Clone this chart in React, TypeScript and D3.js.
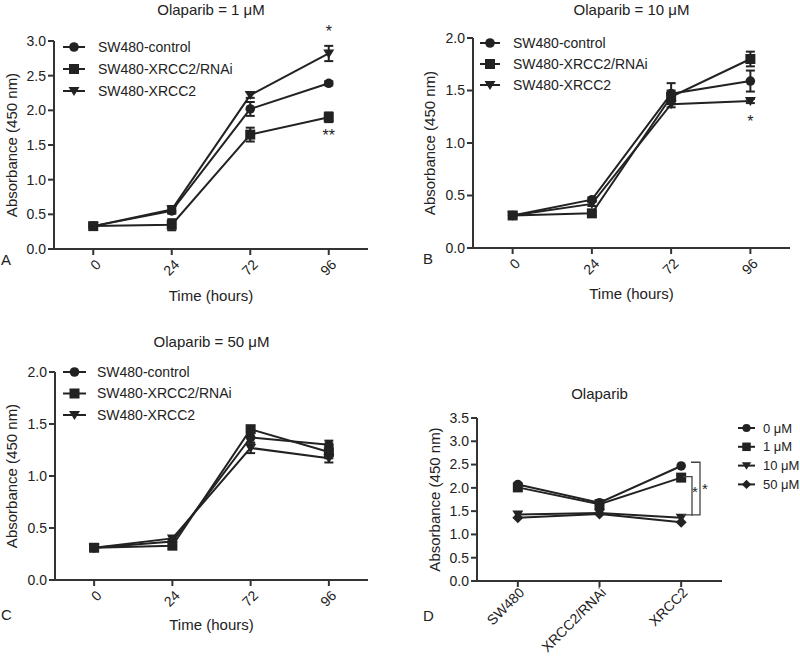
import React from "react";
import * as d3 from "d3";

const times = ["0", "24", "72", "96"];
const seriesNames = ["SW480-control", "SW480-XRCC2/RNAi", "SW480-XRCC2"];

// Panel A: Olaparib = 1 µM
const aControl = [0.33, 0.55, 2.02, 2.39];
const aRNAi = [0.33, 0.35, 1.65, 1.9];
const aXRCC2 = [0.33, 0.57, 2.22, 2.82];
const aControlErr = [0.02, 0.04, 0.1, 0.03];
const aRNAiErr = [0.03, 0.08, 0.1, 0.07];
const aXRCC2Err = [0.02, 0.05, 0.04, 0.11];

// Panel B: Olaparib = 10 µM
const bControl = [0.31, 0.46, 1.47, 1.59];
const bRNAi = [0.31, 0.33, 1.44, 1.8];
const bXRCC2 = [0.31, 0.42, 1.37, 1.4];
const bControlErr = [0.02, 0.02, 0.1, 0.1];
const bRNAiErr = [0.02, 0.02, 0.06, 0.07];
const bXRCC2Err = [0.02, 0.02, 0.03, 0.02];

// Panel C: Olaparib = 50 µM
const cControl = [0.31, 0.37, 1.37, 1.3];
const cRNAi = [0.31, 0.33, 1.45, 1.23];
const cXRCC2 = [0.31, 0.4, 1.27, 1.17];
const cControlErr = [0.02, 0.02, 0.05, 0.04];
const cRNAiErr = [0.02, 0.03, 0.03, 0.06];
const cXRCC2Err = [0.02, 0.02, 0.05, 0.04];

// Panel D: Olaparib dose comparison
const cellLines = ["SW480", "XRCC2/RNAi", "XRCC2"];
const doseNames = ["0 \u03bcM", "1 \u03bcM", "10 \u03bcM", "50 \u03bcM"];
const d0 = [2.07, 1.68, 2.47];
const d1 = [2.01, 1.65, 2.22];
const d10 = [1.43, 1.46, 1.36];
const d50 = [1.36, 1.44, 1.26];

const yTicksA = [0, 0.5, 1.0, 1.5, 2.0, 2.5, 3.0];
const yTicksBC = [0, 0.5, 1.0, 1.5, 2.0];
const yTicksD = [0, 0.5, 1.0, 1.5, 2.0, 2.5, 3.0, 3.5];

const FONT = "'Liberation Sans', Arial, Helvetica, sans-serif";
const INK = "#222";

type Shape = "circle" | "square" | "triDown" | "diamond";

function Marker({ shape, x, y, s = 1 }: { shape: Shape; x: number; y: number; s?: number }) {
  if (shape === "circle") return <circle cx={x} cy={y} r={4.8 * s} fill={INK} />;
  if (shape === "square") {
    const h = 5 * s;
    return <rect x={x - h} y={y - h} width={2 * h} height={2 * h} fill={INK} />;
  }
  if (shape === "triDown") {
    const w = 5.5 * s;
    return <path d={`M${x - w},${y - 4 * s}L${x + w},${y - 4 * s}L${x},${y + 5 * s}Z`} fill={INK} />;
  }
  const r = 5.5 * s;
  return <path d={`M${x},${y - r}L${x + r},${y}L${x},${y + r}L${x - r},${y}Z`} fill={INK} />;
}

type Series = { name: string; shape: Shape; values: number[]; err?: number[] };

type PanelProps = {
  left: number;
  right: number;
  top: number;
  bottom: number;
  yMax: number;
  yTicks: number[];
  cats: string[];
  series: Series[];
  title: string;
  titleY: number;
  xLabel?: string;
  xLabelY?: number;
  yLabelX: number;
  letter: string;
  letterX: number;
  letterY: number;
  legendX: number;
  legendY: number;
  legendDy: number;
  legendLine: number;
  legendTextDx: number;
  legendFont: number;
  tickFont?: number;
  tickDx?: number;
  tickDy?: number;
  children?: React.ReactNode;
};

function Panel(p: PanelProps) {
  const x = d3.scalePoint<string>().domain(p.cats).range([p.left, p.right]).padding(0.5);
  const y = d3.scaleLinear().domain([0, p.yMax]).range([p.bottom, p.top]);
  const line = d3
    .line<number>()
    .x((_, i) => x(p.cats[i]) as number)
    .y((v) => y(v));
  const fmt = d3.format(".1f");
  const tdx = p.tickDx ?? 5;
  const tdy = p.tickDy ?? 13;
  return (
    <g fontFamily={FONT} fill={INK}>
      <text x={(p.left + p.right) / 2} y={p.titleY} textAnchor="middle" fontSize={15}>
        {p.title}
      </text>
      {/* axes */}
      <line x1={p.left} x2={p.left} y1={p.top} y2={p.bottom + 1} stroke="#333" strokeWidth={2} />
      <line x1={p.left - 1} x2={p.right} y1={p.bottom} y2={p.bottom} stroke="#333" strokeWidth={2} />
      {p.yTicks.map((t) => (
        <g key={t}>
          <line x1={p.left - 6} x2={p.left} y1={y(t)} y2={y(t)} stroke="#333" strokeWidth={2} />
          <text x={p.left - 8} y={y(t)} dy="0.35em" textAnchor="end" fontSize={14}>
            {fmt(t)}
          </text>
        </g>
      ))}
      {p.cats.map((c) => {
        const cx = x(c) as number;
        return (
          <g key={c}>
            <line x1={cx} x2={cx} y1={p.bottom} y2={p.bottom + 6} stroke="#333" strokeWidth={2} />
            <text
              transform={`translate(${cx + tdx},${p.bottom + tdy}) rotate(-45)`}
              textAnchor="end"
              dy="0.35em"
              fontSize={p.tickFont ?? 14}
            >
              {c}
            </text>
          </g>
        );
      })}
      <text
        transform={`translate(${p.yLabelX},${(p.top + p.bottom) / 2}) rotate(-90)`}
        textAnchor="middle"
        fontSize={15}
      >
        Absorbance (450 nm)
      </text>
      {p.xLabel && (
        <text x={(p.left + p.right) / 2} y={p.xLabelY} textAnchor="middle" fontSize={15}>
          {p.xLabel}
        </text>
      )}
      <text x={p.letterX} y={p.letterY} fontSize={15}>
        {p.letter}
      </text>
      {/* series */}
      {p.series.map((s) => (
        <g key={s.name}>
          <path d={line(s.values) || ""} fill="none" stroke={INK} strokeWidth={2} />
          {s.err &&
            s.values.map((v, i) => {
              const e = s.err![i];
              const cx = x(p.cats[i]) as number;
              return (
                <g key={i} stroke={INK} strokeWidth={2}>
                  <line x1={cx} x2={cx} y1={y(v - e)} y2={y(v + e)} />
                  <line x1={cx - 4.5} x2={cx + 4.5} y1={y(v - e)} y2={y(v - e)} />
                  <line x1={cx - 4.5} x2={cx + 4.5} y1={y(v + e)} y2={y(v + e)} />
                </g>
              );
            })}
          {s.values.map((v, i) => (
            <Marker key={i} shape={s.shape} x={x(p.cats[i]) as number} y={y(v)} />
          ))}
        </g>
      ))}
      {/* legend */}
      {p.series.map((s, i) => {
        const ly = p.legendY + i * p.legendDy;
        return (
          <g key={s.name}>
            <line x1={p.legendX} x2={p.legendX + p.legendLine} y1={ly} y2={ly} stroke={INK} strokeWidth={2} />
            <Marker shape={s.shape} x={p.legendX + p.legendLine / 2} y={ly} s={p.legendFont < 14 ? 0.85 : 1} />
            <text x={p.legendX + p.legendTextDx} y={ly} dy="0.35em" fontSize={p.legendFont}>
              {s.name}
            </text>
          </g>
        );
      })}
      {p.children}
    </g>
  );
}

const shapes: Shape[] = ["circle", "square", "triDown"];

function mk(vals: number[][], errs: number[][]): Series[] {
  return seriesNames.map((n, i) => ({ name: n, shape: shapes[i], values: vals[i], err: errs[i] }));
}

export default function App() {
  const A = mk([aControl, aRNAi, aXRCC2], [aControlErr, aRNAiErr, aXRCC2Err]);
  const B = mk([bControl, bRNAi, bXRCC2], [bControlErr, bRNAiErr, bXRCC2Err]);
  const C = mk([cControl, cRNAi, cXRCC2], [cControlErr, cRNAiErr, cXRCC2Err]);
  const dShapes: Shape[] = ["circle", "square", "triDown", "diamond"];
  const D: Series[] = [d0, d1, d10, d50].map((v, i) => ({ name: doseNames[i], shape: dShapes[i], values: v }));

  const yA = d3.scaleLinear().domain([0, 3]).range([249, 41]);
  const yB = d3.scaleLinear().domain([0, 2]).range([248, 38]);
  const yD = d3.scaleLinear().domain([0, 3.5]).range([581, 418]);
  const xA = d3.scalePoint<string>().domain(times).range([54, 368]).padding(0.5);
  const xB = d3.scalePoint<string>().domain(times).range([473, 790]).padding(0.5);

  const bracket = (xv: number, y1: number, y2: number) =>
    `M${xv - 9},${y1}L${xv},${y1}L${xv},${y2}L${xv - 9},${y2}`;

  return (
    <svg width={800} height={656} style={{ position: "absolute", left: 0, top: 0, background: "#fff" }}>
      <rect width={800} height={656} fill="#fff" />
      <Panel
        left={54} right={368} top={41} bottom={249} yMax={3} yTicks={yTicksA} cats={times} series={A}
        title="Olaparib = 1 μM" titleY={15} xLabel="Time (hours)" xLabelY={301} yLabelX={17}
        letter="A" letterX={1} letterY={265}
        legendX={63} legendY={47} legendDy={22} legendLine={22} legendTextDx={35} legendFont={14}
      >
        <text x={xA("96")} y={yA(2.82) - 16} textAnchor="middle" fontSize={16}>*</text>
        <text x={xA("96")} y={yA(1.9) + 24} textAnchor="middle" fontSize={16}>**</text>
      </Panel>
      <Panel
        left={473} right={790} top={38} bottom={248} yMax={2} yTicks={yTicksBC} cats={times} series={B}
        title="Olaparib = 10 μM" titleY={15} xLabel="Time (hours)" xLabelY={299} yLabelX={435}
        letter="B" letterX={423} letterY={264}
        legendX={480} legendY={43} legendDy={21} legendLine={20} legendTextDx={33} legendFont={14}
      >
        <text x={xB("96")} y={yB(1.4) + 26} textAnchor="middle" fontSize={16}>*</text>
      </Panel>
      <Panel
        left={55} right={368} top={372} bottom={580} yMax={2} yTicks={yTicksBC} cats={times} series={C}
        title="Olaparib = 50 μM" titleY={347} xLabel="Time (hours)" xLabelY={630} yLabelX={17}
        letter="C" letterX={1} letterY={620}
        legendX={63} legendY={372} legendDy={21.5} legendLine={23} legendTextDx={34} legendFont={14}
      />
      <Panel
        left={477} right={722} top={418} bottom={581} yMax={3.5} yTicks={yTicksD} cats={cellLines} series={D}
        title="Olaparib" titleY={399} yLabelX={440}
        letter="D" letterX={423} letterY={621}
        legendX={738} legendY={428} legendDy={18.8} legendLine={17} legendTextDx={25} legendFont={13}
        tickFont={14} tickDx={4} tickDy={9}
      >
        <path d={bracket(700, yD(2.55), yD(1.42))} fill="none" stroke="#444" strokeWidth={1.3} />
        <path d={bracket(692, yD(2.24), yD(1.42))} fill="none" stroke="#444" strokeWidth={1.3} />
        <text x={695} y={497} textAnchor="middle" fontSize={15}>*</text>
        <text x={705} y={494} textAnchor="middle" fontSize={15}>*</text>
      </Panel>
    </svg>
  );
}
